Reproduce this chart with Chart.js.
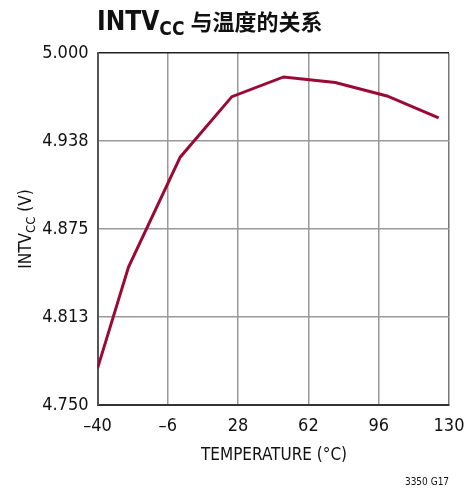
<!DOCTYPE html>
<html><head><meta charset="utf-8">
<script src="https://cdn.jsdelivr.net/npm/chart.js@4/dist/chart.umd.min.js"></script>
<style>html,body{margin:0;padding:0;background:#fff}#wrap{width:469px;height:489px;position:relative}</style>
</head><body><div id="wrap"><canvas id="c" width="469" height="489"></canvas></div>
<script>
const temperatures = [-40, -25, 0, 25, 50, 75, 100, 125];
const intvcc = [4.776, 4.848, 4.926, 4.969, 4.983, 4.979, 4.9695, 4.954];
const xTickValues = [-40, -6, 28, 62, 96, 130];
const xTickLabels = ['\u201340', '\u20136', '28', '62', '96', '130'];
const yTickValues = [4.75, 4.8125, 4.875, 4.9375, 5.0];
const yTickLabels = ['4.750', '4.813', '4.875', '4.938', '5.000'];
const FONT = "'Liberation Sans Narrow','DejaVu Sans Condensed',sans-serif";

const PLOT = {left: 97.5, top: 53, right: 449, bottom: 405};

const textPlugin = {
  id: 'texts',
  afterDraw(chart) {
    const ctx = chart.ctx;
    ctx.save();
    ctx.fillStyle = '#111';
    ctx.textBaseline = 'alphabetic';
    ctx.textAlign = 'left';
    let x = 97, y = 30;
    ctx.font = "bold 26px " + FONT;
    ctx.fillText('INTV', x, y); x += ctx.measureText('INTV').width;
    ctx.font = "bold 19px " + FONT;
    ctx.fillText('CC', x, y + 5); x += ctx.measureText('CC').width + 6;
    ctx.font = "bold 22px 'Noto Sans CJK SC',sans-serif";
    ctx.fillText('与温度的关系', x, y);
    // y axis title
    ctx.save();
    ctx.translate(31, 229);
    ctx.rotate(-Math.PI / 2);
    const a = 'INTV', b = 'CC', c = ' (V)';
    ctx.font = "17px " + FONT; const wa = ctx.measureText(a).width, wc = ctx.measureText(c).width;
    ctx.font = "13px " + FONT; const wb = ctx.measureText(b).width;
    let sx = -(wa + wb + wc) / 2;
    ctx.font = "17px " + FONT; ctx.fillText(a, sx, 0); sx += wa;
    ctx.font = "13px " + FONT; ctx.fillText(b, sx, 4); sx += wb;
    ctx.font = "17px " + FONT; ctx.fillText(c, sx, 0);
    ctx.restore();
    // x axis title
    ctx.textAlign = 'center';
    ctx.font = "17px " + FONT;
    ctx.fillText('TEMPERATURE (\u00B0C)', 274, 460);
    // footnote
    ctx.font = "10px " + FONT;
    ctx.fillText('3350 G17', 427, 485);
    ctx.restore();
  }
};

new Chart(document.getElementById('c'), {
  type: 'line',
  data: {
    datasets: [{
      data: temperatures.map((t, i) => ({x: t, y: intvcc[i]})),
      borderColor: '#9b0a36',
      borderWidth: 3,
      pointRadius: 0,
      tension: 0,
      fill: false
    }]
  },
  options: {
    responsive: false,
    animation: false,
    devicePixelRatio: 1,
    layout: {padding: {left: 0, top: PLOT.top, right: 469 - PLOT.right, bottom: 0}},
    plugins: {legend: {display: false}, tooltip: {enabled: false}, title: {display: false}},
    scales: {
      x: {
        type: 'linear', min: -40, max: 130,
        afterBuildTicks(s) { s.ticks = xTickValues.map(v => ({value: v})); },
        afterFit(s) { s.height = 489 - PLOT.bottom; s.paddingLeft = 0; s.paddingRight = 0; },
        ticks: {
          callback: (v) => { const i = xTickValues.indexOf(v); return i >= 0 ? xTickLabels[i] : ''; },
          color: '#111', font: {family: FONT, size: 18}, padding: 11, maxRotation: 0, autoSkip: false
        },
        grid: {color: (c) => c.tick && c.tick.value === 130 ? '#777' : '#999', lineWidth: 1.5, drawTicks: false},
        border: {color: '#333', width: 2}
      },
      y: {
        type: 'linear', min: 4.75, max: 5.0,
        afterBuildTicks(s) { s.ticks = yTickValues.map(v => ({value: v})); },
        afterFit(s) { s.width = PLOT.left; s.paddingTop = 0; s.paddingBottom = 0; },
        ticks: {
          callback: (v) => { const i = yTickValues.findIndex(t => Math.abs(t - v) < 1e-6); return i >= 0 ? yTickLabels[i] : ''; },
          color: '#111', font: {family: FONT, size: 18}, padding: 9, autoSkip: false
        },
        grid: {color: (c) => c.tick && c.tick.value === 5.0 ? '#222' : '#999', lineWidth: 1.5, drawTicks: false},
        border: {color: '#555', width: 2}
      }
    }
  },
  plugins: [textPlugin]
});
</script></body></html>
